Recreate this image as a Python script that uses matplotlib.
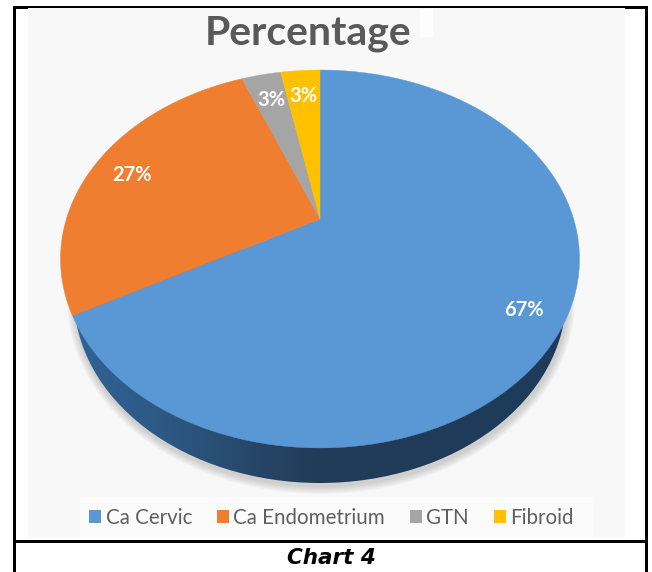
import numpy as np
import matplotlib
matplotlib.use("Agg")
import matplotlib.pyplot as plt
from matplotlib.patches import Rectangle, Ellipse, Polygon, Patch

categories = ["Ca Cervic", "Ca Endometrium", "GTN", "Fibroid"]
percentages = [67, 27, 3, 3]
labels = ["67%", "27%", "3%", "3%"]
colors = ["#5A98D5", "#EF7E30", "#A5A5A5", "#FFC000"]
title = "Percentage"
caption = "Chart 4"

W, H = 652, 572
APEX = (320.0, 219.0)
A, B, K = 253.6, 180.5, 0.2116
LABEL_R = [0.85, 0.835, 0.80, 0.80]
LABEL_DY = [5, 4, 0, 0]


def project(theta_deg, r=1.0):
    """Tilted-disc projection; theta runs clockwise from 12 o'clock."""
    t = np.radians(theta_deg)
    u, v = r * np.sin(t), r * np.cos(t)
    w = 1 + K * v
    return APEX[0] + A * u / w, APEX[1] - B * v / w


fig = plt.figure(figsize=(W / 100, H / 100), dpi=100, facecolor="white")
ax = fig.add_axes([0, 0, 1, 1])

# panel background
ax.add_patch(Rectangle((28, 8), 597, 529, fc="#F8F8F8", ec="none", zorder=0))
ax.add_patch(Rectangle((80, 497), 514, 40, fc="#FBFBFB", ec="none", zorder=0.5))
ax.add_patch(Rectangle((420, 9), 13, 28, fc="#FDFDFD", ec="none", zorder=0.5))

# soft shadow under the disc
LOW = (320, 297, 246, 186)
for i in range(8, 0, -1):
    ax.add_patch(Ellipse((LOW[0] + 1, LOW[1] + 3), 2 * (LOW[2] + i), 2 * (LOW[3] + i),
                         fc="#707070", ec="none", alpha=0.04, zorder=1))

# side wall with horizontal gradient
wall_x = [60, 85, 180, 250, 320, 580]
wall_rgb = np.array([[0x33, 0x68, 0x9C], [0x30, 0x62, 0x94], [0x2C, 0x56, 0x80],
                     [0x27, 0x47, 0x69], [0x21, 0x3B, 0x57], [0x1E, 0x3C, 0x5C]]) / 255
xs = np.arange(60, 581)
grad = np.stack([np.interp(xs, wall_x, wall_rgb[:, c]) for c in range(3)], axis=-1)[None, :, :]
im = ax.imshow(grad, extent=(60, 580, 490, 250), aspect="auto", zorder=2, interpolation="bilinear")
clip = Ellipse(LOW[:2], 2 * LOW[2], 2 * LOW[3], transform=ax.transData, fc="none", ec="none")
ax.add_patch(clip)
im.set_clip_path(clip)

# top face
fractions = np.cumsum([0] + percentages) / sum(percentages) * 360
for p, col, t0, t1 in zip(percentages, colors, fractions[:-1], fractions[1:]):
    th = np.linspace(t0, t1, max(int(t1 - t0) * 2, 8))
    x, y = project(th)
    ax.add_patch(Polygon(np.r_[[APEX], np.c_[x, y]], closed=True, fc=col, ec=col, lw=0.3, zorder=3))

# data labels
for lab, r, dy, t0, t1 in zip(labels, LABEL_R, LABEL_DY, fractions[:-1], fractions[1:]):
    x, y = project((t0 + t1) / 2, r)
    ax.text(x, y + dy, lab, color="white", fontsize=14.5, fontweight="bold", family="Lato",
            ha="center", va="center", zorder=4)

ax.text(308, 33, title, color="#595959", fontsize=29.5, fontweight="bold", family="Lato",
        ha="center", va="center", zorder=4)

handles = [Patch(fc=c, ec="none") for c in colors]
ax.legend(handles, categories, loc="center", bbox_to_anchor=(331.5, 518),
          bbox_transform=ax.transData, ncol=4, frameon=False,
          labelcolor="#5F5F5F", prop={"family": "Lato", "size": 14.8},
          handlelength=0.58, handleheight=0.58, handletextpad=0.22, columnspacing=1.2,
          borderpad=0)

ax.text(331, 558, caption, color="black", fontsize=15.5, fontweight="bold", style="italic",
        family="DejaVu Sans", ha="center", va="center", zorder=4)

# table rules
for xy, w, h in [((13, 6), 3, 566), ((645, 6), 3, 566), ((13, 6), 15, 2.5),
                 ((28, 6), 597, 1.5), ((625, 6), 22, 2.5), ((13, 540), 635, 2.5)]:
    ax.add_patch(Rectangle(xy, w, h, fc="black", ec="none", zorder=5))

ax.set_xlim(0, W)
ax.set_ylim(H, 0)
ax.axis("off")
fig.savefig("out.png", dpi=100, facecolor="white")
